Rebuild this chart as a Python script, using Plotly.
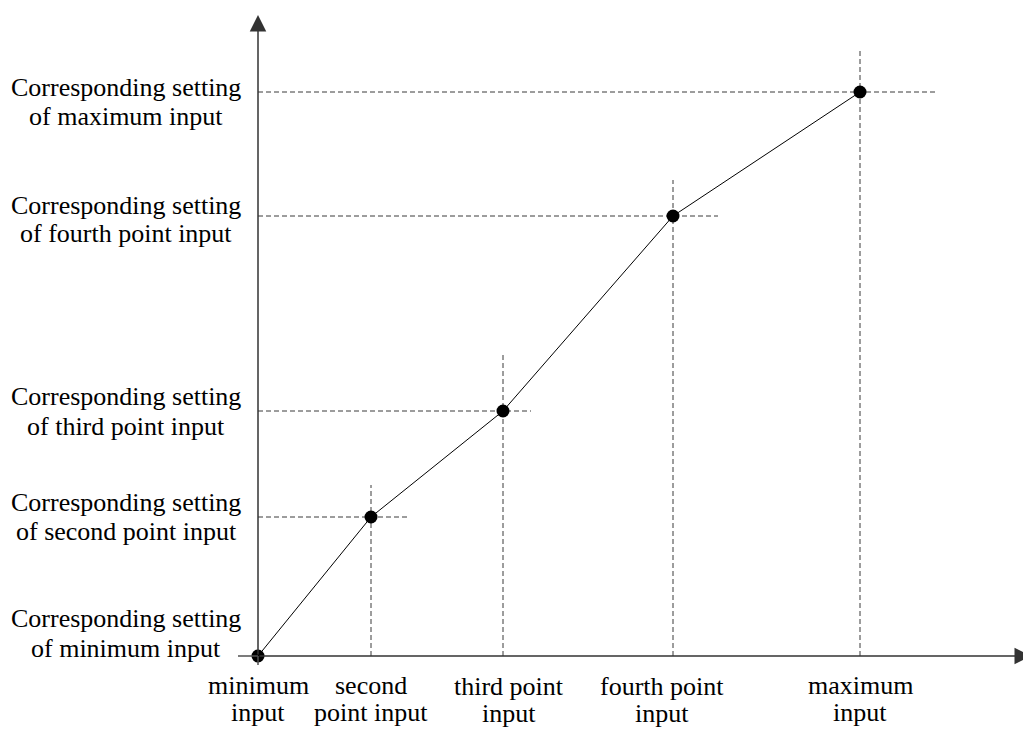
import plotly.graph_objects as go

# Data (input position, corresponding setting) in arbitrary units
x_inputs = [0, 113, 245, 415, 602]
y_settings = [0, 139, 245, 440, 564]
x_labels = [["minimum", "input"], ["second", "point input"], ["third point", "input"],
            ["fourth point", "input"], ["maximum", "input"]]
y_labels = [["Corresponding setting", "of minimum input"],
            ["Corresponding setting", "of second point input"],
            ["Corresponding setting", "of third point input"],
            ["Corresponding setting", "of fourth point input"],
            ["Corresponding setting", "of maximum input"]]
# how far the dashed guides run past each point
h_ext = [0, 39, 28, 45, 78]
v_ext = [0, 32, 59, 36, 42]

FONT = dict(family="Liberation Serif, Times New Roman, serif", size=26, color="black")
AXC = "#505050"
GUIDE = dict(color="#3a3a3a", width=1, dash="5px,3px")

fig = go.Figure()
fig.add_trace(go.Scatter(x=x_inputs, y=y_settings, mode="lines+markers",
                         line=dict(color="black", width=1),
                         marker=dict(color="black", size=13),
                         hoverinfo="skip", showlegend=False))

shapes = []
for i in range(1, len(x_inputs)):
    xi, yi = x_inputs[i], y_settings[i]
    shapes.append(dict(type="line", x0=0, x1=xi + h_ext[i], y0=yi, y1=yi,
                       line=GUIDE, layer="below"))
    shapes.append(dict(type="line", x0=xi, x1=xi, y0=0, y1=yi + v_ext[i],
                       line=GUIDE, layer="below"))
# axis stubs beyond the origin
shapes.append(dict(type="line", x0=-20, x1=0, y0=0, y1=0, line=dict(color=AXC, width=1.5)))
shapes.append(dict(type="line", x0=0, x1=0, y0=-9, y1=0, line=dict(color=AXC, width=1.5)))

annotations = [
    dict(x=0, y=641, ax=0, ay=0, xref="x", yref="y", axref="x", ayref="y",
         showarrow=True, arrowhead=2, arrowsize=2.2, arrowwidth=1.5, arrowcolor="#333", text=""),
    dict(x=773, y=0, ax=0, ay=0, xref="x", yref="y", axref="x", ayref="y",
         showarrow=True, arrowhead=2, arrowsize=2.2, arrowwidth=1.5, arrowcolor="#333", text=""),
]

# line centres (data units) of each two-line label
y_label_lines = [(38, 8), (154, 125), (260, 230), (451, 423), (569, 540)]
for lines, ys in zip(y_labels, y_label_lines):
    for t, yp in zip(lines, ys):
        annotations.append(dict(x=-132, y=yp, xref="x", yref="y", text=t, showarrow=False,
                                xanchor="center", yanchor="middle", font=FONT))

x_label_x = [0, 113, 251, 404, 602]
x_label_lines = [(-29, -56), (-29, -56), (-30, -57), (-30, -57), (-29, -56)]
for lines, xp, ys in zip(x_labels, x_label_x, x_label_lines):
    for t, yp in zip(lines, ys):
        annotations.append(dict(x=xp, y=yp, xref="x", yref="y", text=t, showarrow=False,
                                xanchor="center", yanchor="middle", font=FONT))

fig.update_layout(
    width=1023, height=721,
    margin=dict(l=0, r=0, t=0, b=0),
    paper_bgcolor="white", plot_bgcolor="white",
    xaxis=dict(range=[-250, 773], visible=False, fixedrange=True),
    yaxis=dict(range=[-73, 648], visible=False, fixedrange=True),
    shapes=shapes, annotations=annotations, showlegend=False,
)
fig.write_html("out.html")
